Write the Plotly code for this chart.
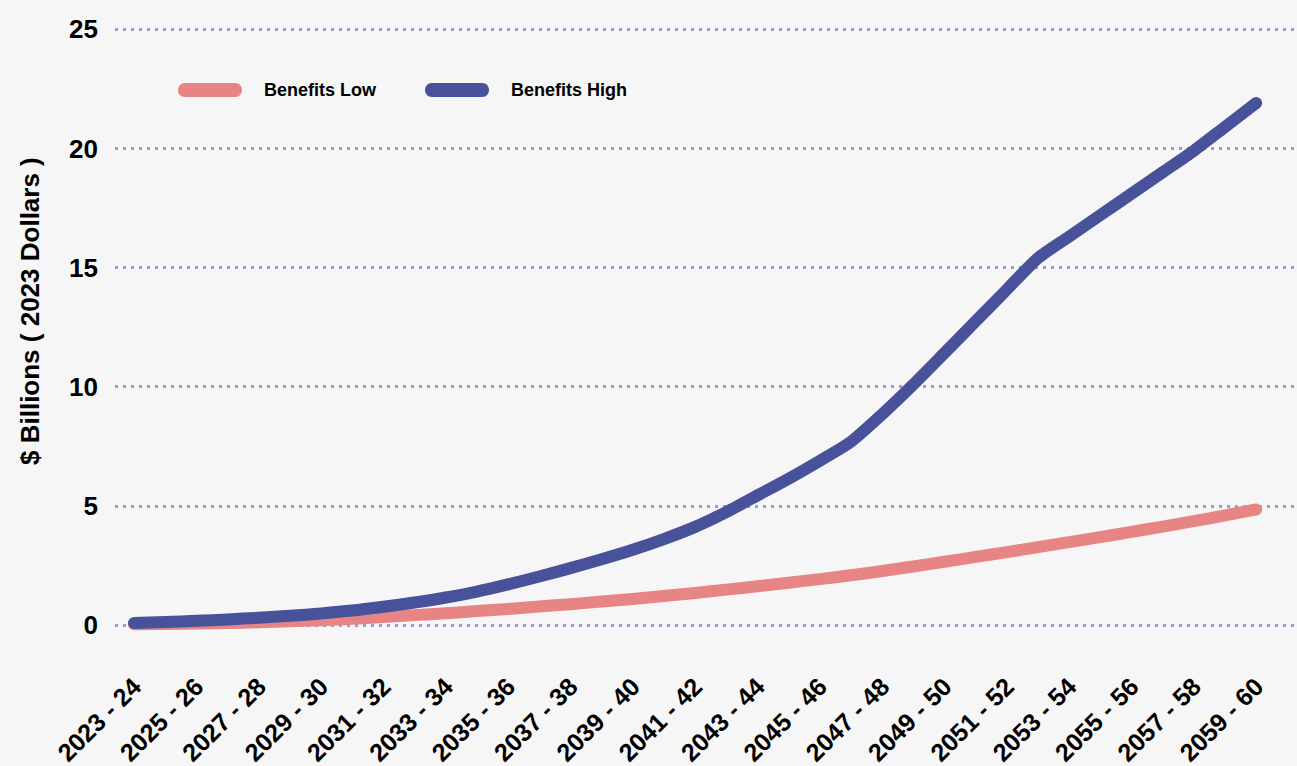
import plotly.graph_objects as go

years = [f"{y} - {str(y + 1)[-2:]}" for y in range(2023, 2060)]

benefits_low = [0.05, 0.06, 0.08, 0.10, 0.13, 0.17, 0.22, 0.28, 0.35, 0.43,
                0.51, 0.60, 0.69, 0.79, 0.89, 1.00, 1.11, 1.23, 1.36, 1.50,
                1.64, 1.79, 1.94, 2.10, 2.28, 2.47, 2.67, 2.87, 3.07, 3.28,
                3.49, 3.70, 3.92, 4.14, 4.37, 4.61, 4.86]

benefits_high = [0.10, 0.14, 0.19, 0.25, 0.32, 0.40, 0.50, 0.62, 0.78, 0.96,
                 1.17, 1.42, 1.72, 2.05, 2.40, 2.77, 3.17, 3.62, 4.13, 4.75,
                 5.45, 6.15, 6.90, 7.70, 8.85, 10.10, 11.42, 12.75, 14.08, 15.40,
                 16.30, 17.20, 18.10, 19.00, 19.90, 20.90, 21.90]

tick_labels = years[::2]
y_ticks = [0, 5, 10, 15, 20, 25]
series_names = ["Benefits Low", "Benefits High"]
y_title = "$ Billions ( 2023 Dollars )"

PINK = "#E68583"
BLUE = "#47529B"
FONT = "Liberation Sans, Arial, sans-serif"

fig = go.Figure()
for name, vals, col in [(series_names[0], benefits_low, PINK),
                        (series_names[1], benefits_high, BLUE)]:
    fig.add_trace(go.Scatter(
        x=years, y=vals, name=name, mode="lines",
        line=dict(color=col, width=12, shape="spline", smoothing=0.7),
        showlegend=False, hoverinfo="x+y+name"))
    # round end caps
    fig.add_trace(go.Scatter(
        x=[years[0], years[-1]], y=[vals[0], vals[-1]], mode="markers",
        marker=dict(color=col, size=12, line=dict(width=0)),
        showlegend=False, hoverinfo="skip"))

# manual legend with pill-shaped symbols
PL, PT = 115, 22
PW, PH = 1182, 632
def px_x(p):
    return (p - PL) / PW
def px_y(p):
    return (PT + PH - p) / PH

pill = "M7,-7 L57,-7 C66.33,-7 66.33,7 57,7 L7,7 C-2.33,7 -2.33,-7 7,-7 Z"
shapes = []
annotations = []
for name, col, sx, tx in [(series_names[0], PINK, 178, 262),
                          (series_names[1], BLUE, 425, 509)]:
    shapes.append(dict(type="path", xref="paper", yref="paper",
                       xsizemode="pixel", ysizemode="pixel",
                       xanchor=px_x(sx), yanchor=px_y(90),
                       path=pill, fillcolor=col, line=dict(width=0)))
    annotations.append(dict(text=name, xref="paper", yref="paper",
                            x=px_x(tx), y=px_y(90), xanchor="left",
                            yanchor="middle", showarrow=False,
                            font=dict(size=18, family=FONT, weight="bold",
                                      color="#000000")))

annotations.append(dict(text=y_title, xref="paper", yref="paper",
                        x=px_x(30), y=px_y(311), xanchor="center",
                        yanchor="middle", textangle=-90, showarrow=False,
                        font=dict(size=26, family=FONT, weight="bold",
                                  color="#000000")))

fig.update_layout(
    width=1297, height=766,
    paper_bgcolor="#F6F6F6", plot_bgcolor="#F6F6F6",
    margin=dict(l=PL, r=0, t=PT, b=766 - PT - PH),
    font=dict(family=FONT, color="#000000"),
    showlegend=False,
    shapes=shapes,
    annotations=annotations,
    xaxis=dict(type="category", range=[-0.61, 37.31],
               tickmode="array", tickvals=tick_labels, ticktext=tick_labels,
               tickangle=-45, showgrid=False, zeroline=False, showline=False,
               ticks="", ticklabelstandoff=12,
               tickfont=dict(size=25, family=FONT, weight="bold")),
    yaxis=dict(range=[-1.2, 25.3], tickvals=y_ticks, showgrid=True,
               gridcolor="#9F98D3", gridwidth=3, griddash="3px,5px",
               zeroline=False, showline=False, ticks="", ticklabelstandoff=16,
               tickfont=dict(size=26, family=FONT, weight="bold")),
)

fig.write_html("out.html")
